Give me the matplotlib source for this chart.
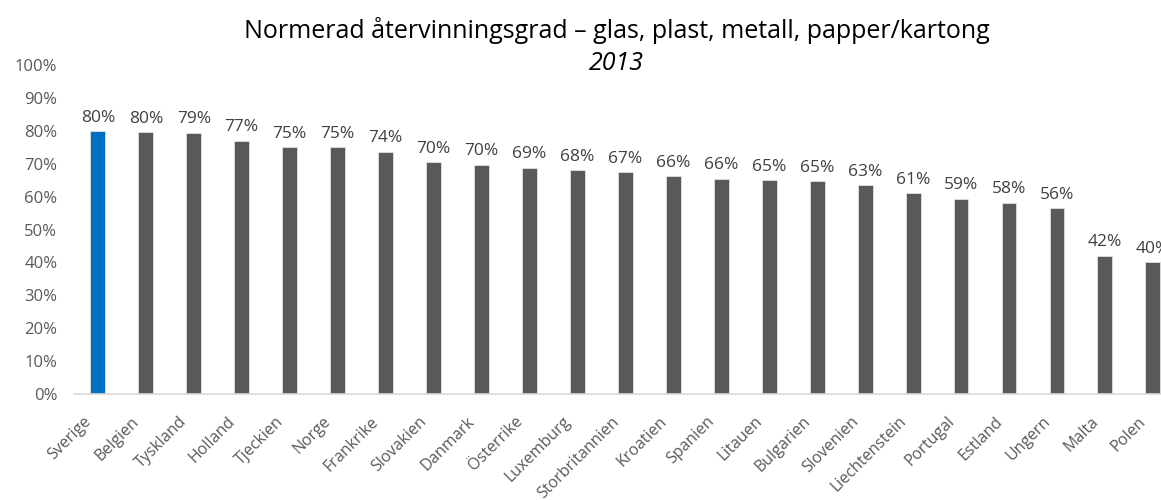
import matplotlib
matplotlib.use("Agg")
from matplotlib import pyplot as plt
from matplotlib.ticker import PercentFormatter
from matplotlib.transforms import ScaledTranslation

countries = ["Sverige", "Belgien", "Tyskland", "Holland", "Tjeckien", "Norge",
             "Frankrike", "Slovakien", "Danmark", "Österrike", "Luxemburg",
             "Storbritannien", "Kroatien", "Spanien", "Litauen", "Bulgarien",
             "Slovenien", "Liechtenstein", "Portugal", "Estland", "Ungern",
             "Malta", "Polen"]
rates = [79.8, 79.5, 79.4, 76.9, 75.0, 75.0, 73.7, 70.4, 69.6, 68.7, 68.0,
         67.4, 66.2, 65.5, 65.0, 64.7, 63.4, 61.0, 59.4, 58.2, 56.5, 42.0, 40.0]
labels = ["80%", "80%", "79%", "77%", "75%", "75%", "74%", "70%", "70%", "69%",
          "68%", "67%", "66%", "66%", "65%", "65%", "63%", "61%", "59%", "58%",
          "56%", "42%", "40%"]

plt.rcParams['font.family'] = ['Open Sans', 'DejaVu Sans']

fig = plt.figure(figsize=(11.61, 5.0), dpi=100)
ax = fig.add_axes([0.0637, 0.212, 0.9363, 0.658])

colors = ['#0070C0'] + ['#595959'] * (len(countries) - 1)
x = range(len(countries))
bars = ax.bar(x, rates, width=0.31, color=colors, edgecolor='#e0e0e0', linewidth=0.6)

for b, lab in zip(bars, labels):
    ax.annotate(lab, (b.get_x() + b.get_width() / 2, b.get_height()),
                xytext=(0, 4), textcoords='offset points', ha='center', va='bottom',
                fontsize=12.5, color='#404040')

ax.set_ylim(0, 100)
ax.set_xlim(-0.5, 22.17)
ax.set_yticks(range(0, 101, 10))
ax.yaxis.set_major_formatter(PercentFormatter(decimals=0))
ax.set_xticks(list(x))
ax.set_xticklabels(countries, rotation=45, ha='right', va='center',
                   rotation_mode='anchor')
ax.tick_params(axis='y', length=0, colors='#595959', labelsize=12)
ax.tick_params(axis='x', length=0, colors='#595959', labelsize=11.5, pad=16)
ax.tick_params(axis='y', pad=12)
# nudge the slanted names down and left, like the original
shift = ScaledTranslation(-0.09, -0.03, fig.dpi_scale_trans)
for t in ax.get_xticklabels():
    t.set_transform(t.get_transform() + shift)

for s in ['top', 'right', 'left']:
    ax.spines[s].set_visible(False)
ax.spines['bottom'].set_color('#d9d9d9')
ax.spines['bottom'].set_linewidth(1.2)

fig.text(0.531, 0.94, "Normerad återvinningsgrad – glas, plast, metall, papper/kartong",
         ha='center', va='center', fontsize=18, color='#000000')
fig.text(0.531, 0.872, "2013", ha='center', va='center', fontsize=18,
         style='italic', color='#000000')

plt.savefig('out.png', dpi=100)
